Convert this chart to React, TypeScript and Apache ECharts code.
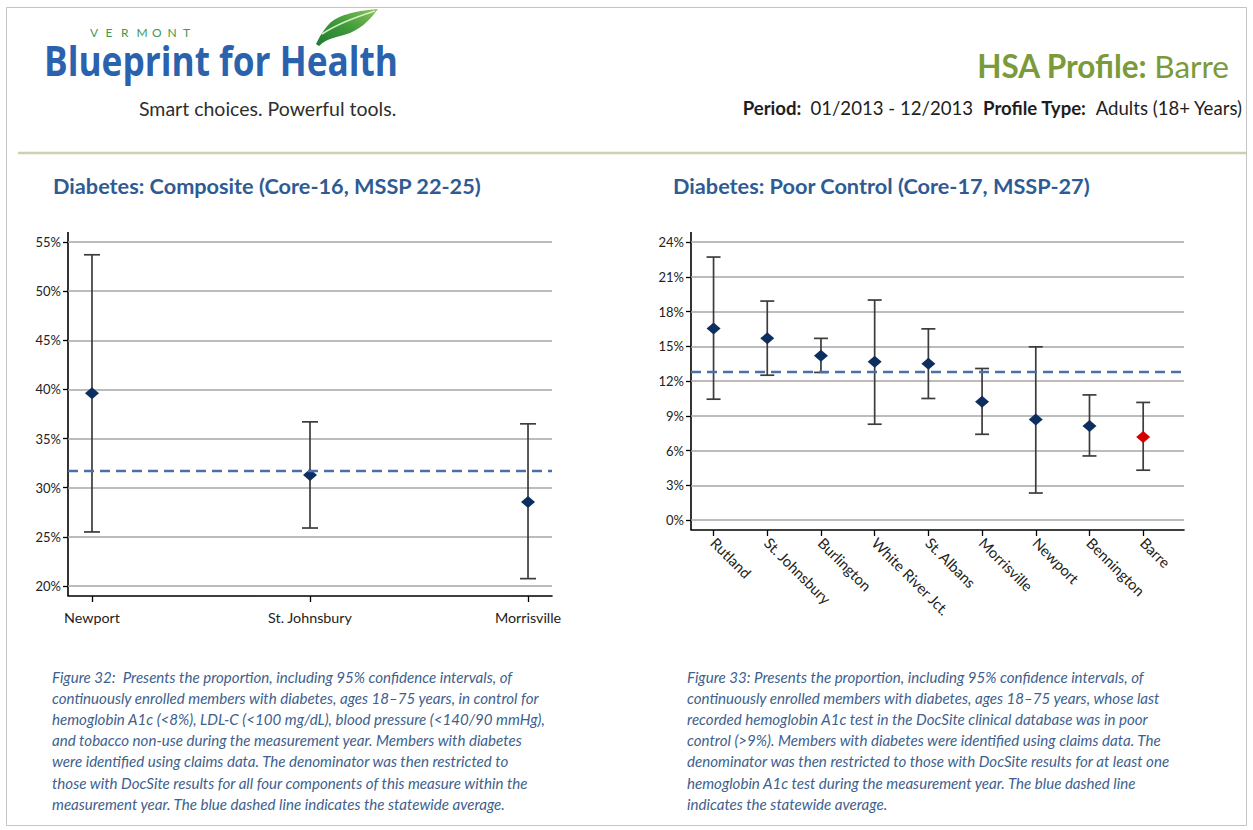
import React, { useEffect, useRef } from "react";
import * as echarts from "echarts";

// ---------- data ----------
const leftCategories = ["Newport", "St. Johnsbury", "Morrisville"];
const leftValues = [39.6, 31.3, 28.55];
const leftLower = [25.5, 25.9, 20.75];
const leftUpper = [53.7, 36.7, 36.5];
const leftAverage = 31.7;

const rightCategories = [
  "Rutland",
  "St. Johnsbury",
  "Burlington",
  "White River Jct.",
  "St. Albans",
  "Morrisville",
  "Newport",
  "Bennington",
  "Barre",
];
const rightValues = [16.54, 15.68, 14.17, 13.66, 13.5, 10.2, 8.68, 8.12, 7.17];
const rightLower = [10.43, 12.5, 12.74, 8.27, 10.49, 7.4, 2.33, 5.53, 4.3];
const rightUpper = [22.7, 18.9, 15.68, 18.99, 16.5, 13.08, 14.95, 10.8, 10.15];
const rightAverage = 12.79;
const highlightedHsa = "Barre";

const leftCaption = [
  "Figure 32:  Presents the proportion, including 95% confidence intervals, of",
  "continuously enrolled members with diabetes, ages 18–75 years, in control for",
  "hemoglobin A1c (<8%), LDL-C (<100 mg/dL), blood pressure (<140/90 mmHg),",
  "and tobacco non-use during the measurement year. Members with diabetes",
  "were identified using claims data. The denominator was then restricted to",
  "those with DocSite results for all four components of this measure within the",
  "measurement year. The blue dashed line indicates the statewide average.",
];
const rightCaption = [
  "Figure 33: Presents the proportion, including 95% confidence intervals, of",
  "continuously enrolled members with diabetes, ages 18–75 years, whose last",
  "recorded hemoglobin A1c test in the DocSite clinical database was in poor",
  "control (>9%). Members with diabetes were identified using claims data. The",
  "denominator was then restricted to those with DocSite results for at least one",
  "hemoglobin A1c test during the measurement year. The blue dashed line",
  "indicates the statewide average.",
];

// ---------- styles ----------
const FONT = "Lato, 'Open Sans', sans-serif";
const DIAMOND = "#0d2f5f";
const HIGHLIGHT = "#d40000";
const BAR = "#3c3c3c";
const GRID = "#a6a6a6";
const DASH = "#4a70a8";

const LEAF_D =
  "M0,36 C3,30 7,22 14,15 C22,8 36,3 62,1 C56,9 48,19 34,25 C24,29 12,29 3,38 Z";
echarts.graphic.registerShape("leaf", echarts.graphic.extendPath(LEAF_D, {}));

function errorBarRenderer(capHalf: number) {
  return (params: any, api: any) => {
    const x = api.value(0);
    const lo = api.coord([x, api.value(1)]);
    const hi = api.coord([x, api.value(2)]);
    const st = { stroke: BAR, lineWidth: 1.7 };
    return {
      type: "group",
      children: [
        { type: "line", shape: { x1: lo[0], y1: lo[1], x2: hi[0], y2: hi[1] }, style: st },
        { type: "line", shape: { x1: lo[0] - capHalf, y1: lo[1], x2: lo[0] + capHalf, y2: lo[1] }, style: st },
        { type: "line", shape: { x1: hi[0] - capHalf, y1: hi[1], x2: hi[0] + capHalf, y2: hi[1] }, style: st },
      ],
    };
  };
}

function captionTexts(lines: string[], x: number, y0: number) {
  return lines.map((t, i) => ({
    type: "text",
    x,
    y: y0 + i * 21.1,
    style: {
      text: t,
      fill: "#405f8e",
      font: `italic 15.1px ${FONT}`,
      textVerticalAlign: "middle",
    },
  }));
}

const VERMONT = "VERMONT".split("");

export default function App() {
  const ref = useRef<HTMLDivElement>(null);

  useEffect(() => {
    if (!ref.current) return;
    const chart = echarts.init(ref.current, null, { renderer: "svg" });

    const yAxisCommon = {
      axisLine: { show: false, onZero: false },
      axisTick: { show: true, length: 5, lineStyle: { color: "#000", width: 1.3 } },
      splitLine: { show: true, lineStyle: { color: GRID, width: 1.6 } },
      axisLabel: {
        color: "#222",
        fontSize: 13,
        fontFamily: FONT,
        margin: 7,
        formatter: (v: number) => `${v}%`,
      },
    };

    const option: any = {
      animation: false,
      backgroundColor: "#fff",
      grid: [
        { left: 68, top: 242, width: 484, height: 344 },
        { left: 691, top: 242, width: 493, height: 278 },
      ],
      xAxis: [
        {
          gridIndex: 0,
          type: "value",
          min: -0.11,
          max: 2.11,
          offset: 10,
          splitLine: { show: false },
          axisLine: { show: true, onZero: false, lineStyle: { color: "#000", width: 1.6 } },
          axisTick: {
            show: true,
            length: 6,
            customValues: [0, 1, 2],
            lineStyle: { color: "#000", width: 1.3 },
          },
          axisLabel: {
            customValues: [0, 1, 2],
            formatter: (v: number) => leftCategories[Math.round(v)] ?? "",
            color: "#222",
            fontSize: 14.3,
            fontFamily: FONT,
            margin: 14,
          },
        },
        {
          gridIndex: 1,
          type: "value",
          min: -0.42,
          max: 8.76,
          offset: 10,
          splitLine: { show: false },
          axisLine: { show: true, onZero: false, lineStyle: { color: "#000", width: 1.6 } },
          axisTick: {
            show: true,
            length: 6,
            customValues: rightCategories.map((_, i) => i),
            lineStyle: { color: "#000", width: 1.3 },
          },
          axisLabel: {
            customValues: rightCategories.map((_, i) => i),
            formatter: (v: number) => rightCategories[Math.round(v)] ?? "",
            rotate: -45,
            color: "#222",
            fontSize: 14.8,
            fontFamily: FONT,
            margin: 10,
          },
        },
      ],
      yAxis: [
        { gridIndex: 0, type: "value", min: 20, max: 55, interval: 5, ...yAxisCommon },
        { gridIndex: 1, type: "value", min: 0, max: 24, interval: 3, ...yAxisCommon },
      ],
      series: [
        {
          type: "custom",
          xAxisIndex: 0,
          yAxisIndex: 0,
          renderItem: errorBarRenderer(8),
          data: leftCategories.map((_, i) => [i, leftLower[i], leftUpper[i]]),
          z: 2,
        },
        {
          type: "scatter",
          xAxisIndex: 0,
          yAxisIndex: 0,
          symbol: "diamond",
          symbolSize: [14, 12],
          itemStyle: { color: DIAMOND, opacity: 1 },
          data: leftValues.map((v, i) => [i, v]),
          z: 4,
          markLine: {
            silent: true,
            symbol: "none",
            label: { show: false },
            lineStyle: { color: DASH, width: 2.4, type: [10, 6] },
            data: [{ yAxis: leftAverage }],
          },
        },
        {
          type: "custom",
          xAxisIndex: 1,
          yAxisIndex: 1,
          renderItem: errorBarRenderer(7),
          data: rightCategories.map((_, i) => [i, rightLower[i], rightUpper[i]]),
          z: 2,
        },
        {
          type: "scatter",
          xAxisIndex: 1,
          yAxisIndex: 1,
          symbol: "diamond",
          symbolSize: [14, 12],
          data: rightValues.map((v, i) => ({
            value: [i, v],
            itemStyle: {
              color: rightCategories[i] === highlightedHsa ? HIGHLIGHT : DIAMOND,
              opacity: 1,
            },
          })),
          z: 4,
          markLine: {
            silent: true,
            symbol: "none",
            label: { show: false },
            lineStyle: { color: DASH, width: 2.4, type: [10, 6] },
            data: [{ yAxis: rightAverage }],
          },
        },
      ],
      graphic: [
        // page frame
        {
          type: "rect",
          shape: { x: 6.5, y: 7.5, width: 1240, height: 818 },
          style: { fill: "none", stroke: "#c4c4c4", lineWidth: 1 },
          silent: true,
        },
        // header rule
        {
          type: "line",
          shape: { x1: 18, y1: 153, x2: 1246, y2: 153 },
          style: { stroke: "#c9d3ad", lineWidth: 2.5 },
        },
        // logo
        ...VERMONT.map((ch, i) => ({
          type: "text",
          x: 90 + i * 15.5,
          y: 32,
          style: {
            text: ch,
            fill: "#3d9a4e",
            font: `12px ${FONT}`,
            textVerticalAlign: "middle",
          },
        })),
        {
          type: "leaf",
          x: 316,
          y: 8,
          style: {
            fill: new echarts.graphic.LinearGradient(0, 1, 1, 0, [
              { offset: 0, color: "#1f7a30" },
              { offset: 0.5, color: "#3e9a3a" },
              { offset: 1, color: "#8cc35a" },
            ]),
          },
        },
        {
          type: "bezierCurve",
          shape: { x1: 322, y1: 34, cpx1: 340, cpy1: 22, x2: 375, y2: 11 },
          style: { stroke: "#d8eec4", lineWidth: 1.6, fill: "none" },
        },
        {
          type: "text",
          x: 44,
          y: 60,
          scaleX: 0.86,
          style: {
            text: "Blueprint for Health",
            fill: "#2a62ad",
            font: `bold 41px 'Open Sans', ${FONT}`,
            textVerticalAlign: "middle",
          },
        },
        {
          type: "text",
          x: 139,
          y: 108,
          style: {
            text: "Smart choices. Powerful tools.",
            fill: "#2e2e2e",
            font: `19.5px ${FONT}`,
            textVerticalAlign: "middle",
          },
        },
        // header right
        {
          type: "text",
          x: 1229,
          y: 66,
          style: {
            text: "{b|HSA Profile:\u00a0}{r|Barre}",
            textAlign: "right",
            textVerticalAlign: "middle",
            rich: {
              b: { fill: "#7b9a3a", font: `bold 31.5px ${FONT}` },
              r: { fill: "#7b9a3a", font: `31.5px ${FONT}` },
            },
          },
        },
        {
          type: "text",
          x: 1242,
          y: 108,
          style: {
            text:
              "{b|Period:\u00a0\u00a0}{r|01/2013 - 12/2013\u00a0\u00a0}{b|Profile Type:\u00a0\u00a0}{r|Adults (18+ Years)}",
            textAlign: "right",
            textVerticalAlign: "middle",
            rich: {
              b: { fill: "#1e1e1e", font: `bold 18.6px ${FONT}` },
              r: { fill: "#1e1e1e", font: `18.6px ${FONT}` },
            },
          },
        },
        // chart titles
        {
          type: "text",
          x: 53,
          y: 186,
          style: {
            text: "Diabetes: Composite (Core-16, MSSP 22-25)",
            fill: "#2f5b95",
            font: `bold 21.7px ${FONT}`,
            textVerticalAlign: "middle",
          },
        },
        {
          type: "text",
          x: 673,
          y: 186,
          style: {
            text: "Diabetes: Poor Control (Core-17, MSSP-27)",
            fill: "#2f5b95",
            font: `bold 21.7px ${FONT}`,
            textVerticalAlign: "middle",
          },
        },
        // y-axis lines extended to the offset x-axes
        {
          type: "line",
          shape: { x1: 68, y1: 232, x2: 68, y2: 596 },
          style: { stroke: "#000", lineWidth: 1.6 },
        },
        {
          type: "line",
          shape: { x1: 691, y1: 232, x2: 691, y2: 530 },
          style: { stroke: "#000", lineWidth: 1.6 },
        },
        ...captionTexts(leftCaption, 52, 677),
        ...captionTexts(rightCaption, 687, 677),
      ],
    };

    chart.setOption(option);
    return () => chart.dispose();
  }, []);

  return (
    <div
      ref={ref}
      style={{ position: "fixed", left: 0, top: 0, width: 1253, height: 830, background: "#fff" }}
    />
  );
}
